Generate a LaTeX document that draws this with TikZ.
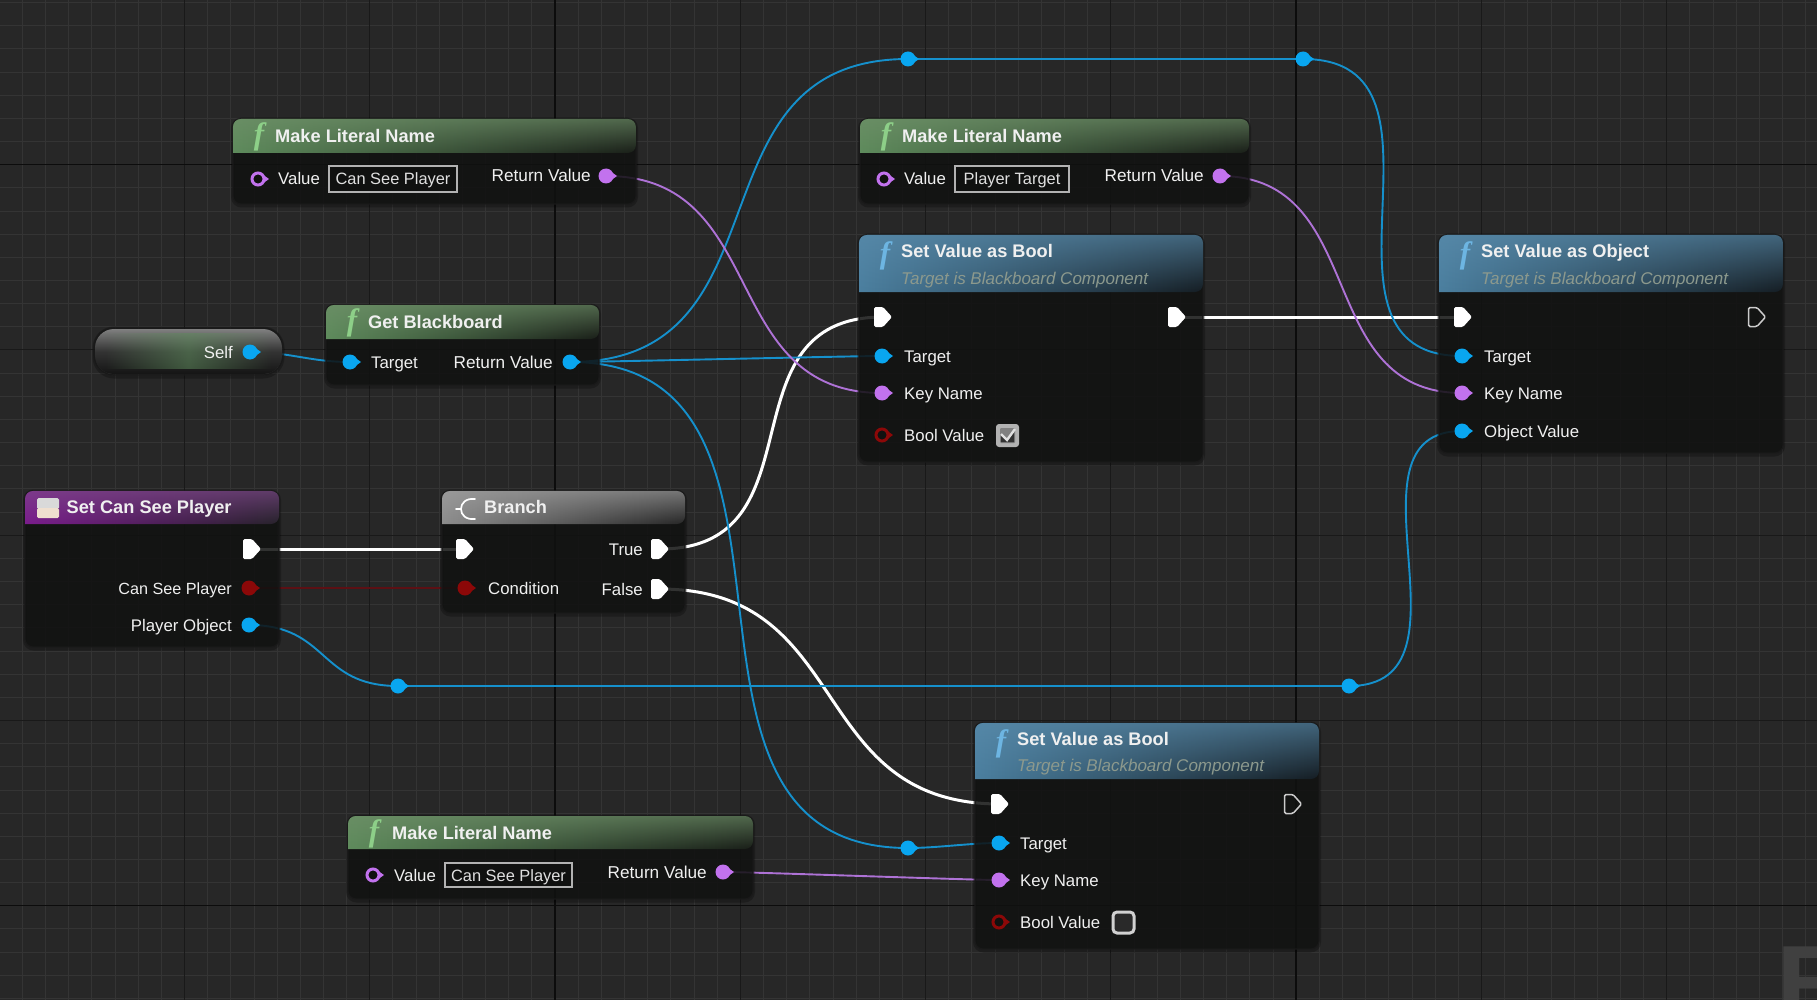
\documentclass[tikz,border=0pt]{standalone}
\usepackage{fontspec}
\setmainfont{Liberation Sans}
\newfontfamily\fserif{Liberation Serif}
\usetikzlibrary{fadings}
\pgfdeclarelayer{gridlayer}
\pgfdeclarelayer{wires}
\pgfsetlayers{gridlayer,wires,main}
\definecolor{bgc}{HTML}{272727}
\definecolor{gridminor}{HTML}{343434}
\definecolor{gridmed}{HTML}{191919}
\definecolor{gridmajor}{HTML}{0C0C0C}
\definecolor{bodyc}{HTML}{101110}
\definecolor{pinblue}{HTML}{09A6F0}
\definecolor{pinpurple}{HTML}{C272EE}
\definecolor{pinred}{HTML}{8C0808}
\definecolor{wblue}{HTML}{1590CC}
\definecolor{wpurple}{HTML}{AE72D6}
\definecolor{wred}{HTML}{5C1014}
\definecolor{greenL}{HTML}{5E8B5C}
\definecolor{greenR}{HTML}{191E18}
\definecolor{greenT}{HTML}{6F9069}
\definecolor{blueL}{HTML}{4B7F9F}
\definecolor{blueR}{HTML}{151D23}
\definecolor{blueT}{HTML}{5A8CAC}
\definecolor{purpL}{HTML}{7A1C8C}
\definecolor{purpR}{HTML}{26222A}
\definecolor{purpT}{HTML}{7E4A8A}
\definecolor{greyL}{HTML}{8C8C8C}
\definecolor{greyR}{HTML}{262626}
\definecolor{greyT}{HTML}{A0A0A0}
\definecolor{txt}{HTML}{F0F0F0}
\definecolor{subt}{HTML}{8C998D}
\definecolor{fgreen}{HTML}{8DCF88}
\definecolor{fblue}{HTML}{6DB5E2}
\tikzfading[name=headfade, top color=transparent!35, bottom color=transparent!100]
\tikzfading[name=midglow, left color=transparent!100, right color=transparent!100, middle color=transparent!45]
\tikzset{
  x=1pt,y=-1pt,
  bpbody/.style={draw=black!90,line width=1.2pt,fill=bodyc,fill opacity=.86,rounded corners=8pt,inner sep=0pt,outer sep=0pt},
  pinnode/.style={circle,inner sep=0pt,minimum size=15pt,outer sep=0pt},
  execnode/.style={inner sep=0pt,minimum size=18pt,outer sep=0pt},
  wireb/.style={wblue,line width=1.9pt},
  wirep/.style={wpurple,line width=1.9pt},
  wirer/.style={wred,line width=1.9pt},
  wirew/.style={white,line width=3pt},
  ttl/.style={font=\fontsize{18.2}{20}\selectfont\bfseries,text=txt,inner sep=0pt,anchor=base west},
  subst/.style={font=\fontsize{17}{19}\selectfont\itshape,text=subt,inner sep=0pt,anchor=base west},
  lblw/.style={font=\fontsize{16.8}{19}\selectfont,text=txt,inner sep=0pt,anchor=base west},
  lble/.style={font=\fontsize{16.8}{19}\selectfont,text=txt,inner sep=0pt,anchor=base east},
  lit/.style={draw=white!70!black,line width=1.3pt,fill=bodyc,inner sep=0pt,outer sep=0pt,text height=12pt,text depth=0pt},
  fsym/.style={font=\fontsize{31}{32}\fserif\bfseries\itshape\selectfont,inner sep=0pt},
}
\newcount\lblc
\newcommand\tname{\global\advance\lblc by 1 }
% body: name x1 y1 x2 y2
\newcommand\bpbox[5]{%
  \pgfmathsetmacro\bw{#4-#2}\pgfmathsetmacro\bh{#5-#3}%
  \pgfmathsetmacro\bcx{(#4+#2)/2}\pgfmathsetmacro\bcy{(#5+#3)/2}%
  \draw[black,opacity=.25,line width=3pt,rounded corners=9pt] (#2-.5,#3) rectangle (#4+.5,#5+2);
  \node[bpbody,minimum width=\bw pt,minimum height=\bh pt] (#1) at (\bcx,\bcy) {};
}
% header: x1 y1 x2 ybottom colourL colourR colourT
\newcommand\bphead[7]{%
  \shade[left color=#5,right color=#6] (#1,#4) [rounded corners=8pt] -- (#1,#2) -- (#3,#2) -- (#3,#4) [sharp corners] -- cycle;
  \fill[#7,path fading=headfade] (#1,#4) [rounded corners=8pt] -- (#1,#2) -- (#3,#2) -- (#3,#4) [sharp corners] -- cycle;
}
\newcommand\txl[3]{\tname\node[lblw] (t\the\lblc) at (#1,#2+6) {#3};}
\newcommand\txr[3]{\tname\node[lble] (t\the\lblc) at (#1,#2+6) {#3};}
\newcommand\retv[2]{\tname\node[lble,font=\fontsize{17.2}{19}\selectfont] (t\the\lblc) at (#1,#2+6) {Return Value};}
\newcommand\bptitle[3]{\tname\node[ttl] (t\the\lblc) at (#1,#2+7.5) {#3};}
\newcommand\bpsub[3]{\tname\node[subst] (t\the\lblc) at (#1,#2+6) {#3};}
\newcommand\fsign[3]{\tname\node[fsym,text=#3] (t\the\lblc) at (#1,#2) {f};}
\newcommand\pinS[4]{%
  \fill[#4] (#2+4,#3-5) -- (#2+11,#3) -- (#2+4,#3+5) -- cycle;
  \node[pinnode,fill=#4] (#1) at (#2,#3) {};
}
\newcommand\pinR[4]{%
  \fill[#4] (#2+4,#3-5) -- (#2+11,#3) -- (#2+4,#3+5) -- cycle;
  \node[pinnode,minimum size=12pt,draw=#4,line width=3pt,fill=bodyc] (#1) at (#2,#3) {};
}
\newcommand\pinE[3]{%
  \node[execnode] (#1) at (#2,#3) {};
  \fill[white,rounded corners=1.5pt] (#2-9,#3-10) -- (#2,#3-10) -- (#2+9,#3) -- (#2,#3+10) -- (#2-9,#3+10) -- cycle;
}
\newcommand\pinH[3]{%
  \node[execnode] (#1) at (#2,#3) {};
  \draw[white!80!black,line width=1.5pt,rounded corners=1.5pt] (#2-8.5,#3-9.5) -- (#2,#3-9.5) -- (#2+8.5,#3) -- (#2,#3+9.5) -- (#2-8.5,#3+9.5) -- cycle;
}
\newcommand\litbox[6]{% name x1 y1 x2 y2 text
  \pgfmathsetmacro\bw{#4-#2}\pgfmathsetmacro\bh{#5-#3}%
  \pgfmathsetmacro\bcx{(#4+#2)/2}\pgfmathsetmacro\bcy{(#5+#3)/2}%
  \node[lit,minimum width=\bw pt,minimum height=\bh pt,font=\fontsize{16.4}{18}\selectfont,text=white!88!black] (#1) at (\bcx,\bcy) {#6};
}
\newcommand\wire[4]{\draw[#1] (#2.center) .. controls +(#4,0) and +(-#4,0) .. (#3.center);}
\begin{document}
\begin{tikzpicture}
\useasboundingbox (0,0) rectangle (1817,1000);
\clip (0,0) rectangle (1817,1000);
\begin{pgfonlayer}{gridlayer}
\fill[bgc] (0,0) rectangle (1817,1000);
\foreach \i in {-24,...,55}{
  \pgfmathsetmacro\gx{555+\i*23.16}
  \draw[gridminor,line width=.8pt] (\gx,0) -- (\gx,1000);
}
\foreach \i in {-7,...,37}{
  \pgfmathsetmacro\gy{164.6+\i*23.16}
  \draw[gridminor,line width=.8pt] (0,\gy) -- (1817,\gy);
}
\foreach \i in {-3,...,7}{
  \pgfmathsetmacro\gx{555+\i*185.28}
  \draw[gridmed,line width=.8pt] (\gx,0) -- (\gx,1000);
}
\foreach \i in {-1,...,5}{
  \pgfmathsetmacro\gy{164.6+\i*185.28}
  \draw[gridmed,line width=.8pt] (0,\gy) -- (1817,\gy);
}
\draw[gridmajor,line width=1.1pt] (555,0) -- (555,1000);
\draw[gridmajor,line width=1.1pt] (1296,0) -- (1296,1000);
\draw[gridmajor,line width=1.1pt] (0,164.6) -- (1817,164.6);
\draw[gridmajor,line width=1.1pt] (0,905.4) -- (1817,905.4);
\tname\node[font=\fontsize{110}{110}\selectfont\bfseries,text=white!25!black,inner sep=0pt,anchor=base west] (t\the\lblc) at (1776,1022) {B};
\end{pgfonlayer}

% ---- Make Literal Name 1
\bpbox{mln1}{233}{119}{636}{204}
\bphead{233}{119}{636}{153}{greenL}{greenR}{greenT}
\fsign{259}{137}{fgreen}
\bptitle{275}{135}{Make Literal Name}
\pinR{mln1v}{258}{179}{pinpurple}
\txl{278}{179}{Value}
\litbox{mln1b}{329}{166}{457}{192}{Can See Player}
\retv{591}{176}
\pinS{mln1r}{606}{176}{pinpurple}

% ---- Make Literal Name 2
\bpbox{mln2}{860}{119}{1249}{204}
\bphead{860}{119}{1249}{153}{greenL}{greenR}{greenT}
\fsign{886}{137}{fgreen}
\bptitle{902}{135}{Make Literal Name}
\pinR{mln2v}{884}{179}{pinpurple}
\txl{904}{179}{Value}
\litbox{mln2b}{955}{166}{1069}{192}{Player Target}
\retv{1204}{176}
\pinS{mln2r}{1220}{176}{pinpurple}

% ---- Self
\draw[black,opacity=.25,line width=3pt,rounded corners=20pt] (94,328) rectangle (283,377);
\node[draw=black!90,line width=1.2pt,rounded corners=20pt,minimum width=189pt,minimum height=47pt,inner sep=0pt,outer sep=0pt] (self) at (188.5,351.5) {};
\shade[top color=white!50!black,bottom color=white!8!black,middle color=white!20!black,rounded corners=19pt] (95,329) -- (282,329) -- (282,374) -- (95,374) -- cycle;
\fill[greenL,path fading=midglow] (105,333) rectangle (272,369);
\txr{233}{352}{Self}
\pinS{selfp}{250}{352}{pinblue}

% ---- Get Blackboard
\bpbox{gb}{326}{305}{599}{385}
\bphead{326}{305}{599}{339}{greenL}{greenR}{greenT}
\fsign{352}{323}{fgreen}
\bptitle{368}{321}{Get Blackboard}
\pinS{gbt}{350}{362}{pinblue}
\txl{371}{362}{Target}
\retv{553}{362}
\pinS{gbr}{570}{362}{pinblue}

% ---- Set Can See Player
\bpbox{scsp}{25}{491}{279}{647}
\bphead{25}{491}{279}{524}{purpL}{purpR}{purpT}
\fill[white!85!black,rounded corners=1.5pt] (37,498) rectangle (59,509);
\fill[white!75!brown,rounded corners=1.5pt] (37,508) rectangle (59,518);
\bptitle{66.5}{506}{Set Can See Player}
\pinE{scspx}{252}{549}
\tname\node[lble,font=\fontsize{16.2}{19}\selectfont] (t\the\lblc) at (232,594) {Can See Player};
\pinS{scspc}{249}{588}{pinred}
\txr{232}{625}{Player Object}
\pinS{scspo}{249}{625}{pinblue}

% ---- Branch
\bpbox{br}{442}{491}{685}{613}
\bphead{442}{491}{685}{524}{greyL}{greyR}{greyT}
\draw[white,line width=1.7pt,line cap=round] (475,499) .. controls (466,498) and (461,503) .. (461,509) .. controls (461,515) and (466,520) .. (475,519);
\draw[white,line width=1.7pt,line cap=round] (456,509) -- (461,509);
\bptitle{484}{506}{Branch}
\pinE{brx}{465}{549}
\pinS{brc}{465}{588}{pinred}
\txl{488}{588}{Condition}
\txr{643}{549}{True}
\pinE{brt}{660}{549}
\txr{643}{589}{False}
\pinE{brf}{660}{589}

% ---- Set Value as Bool 1
\bpbox{svb}{859}{235}{1203}{462}
\bphead{859}{235}{1203}{292}{blueL}{blueR}{blueT}
\fsign{885}{256}{fblue}
\bptitle{901}{250}{Set Value as Bool}
\bpsub{901}{278}{Target is Blackboard Component}
\pinE{svbi}{883}{317}
\pinE{svbo}{1177}{317}
\pinS{svbt}{882}{356}{pinblue}
\txl{904}{356}{Target}
\pinS{svbk}{882}{393}{pinpurple}
\txl{904}{393}{Key Name}
\pinR{svbv}{882}{435}{pinred}
\txl{904}{435}{Bool Value}
\node[fill=white!70!black,rounded corners=3pt,minimum width=23pt,minimum height=23pt,inner sep=0pt] (svbc) at (1007.5,435.5) {};
\fill[white!50!black,rounded corners=1pt] (1000,428) rectangle (1015,443);
\fill[white!20!black] (1001,436) -- (1007,441) -- (1014,431) -- (1014,442) -- (1001,442) -- cycle;
\draw[white!88!black,line width=2.4pt] (1001,434) -- (1007,440) -- (1015,429);

% ---- Set Value as Object
\bpbox{svo}{1439}{235}{1783}{453}
\bphead{1439}{235}{1783}{292}{blueL}{blueR}{blueT}
\fsign{1465}{256}{fblue}
\bptitle{1481}{250}{Set Value as Object}
\bpsub{1481}{278}{Target is Blackboard Component}
\pinE{svoi}{1463}{317}
\pinH{svoo}{1757}{317}
\pinS{svot}{1462}{356}{pinblue}
\txl{1484}{356}{Target}
\pinS{svok}{1462}{393}{pinpurple}
\txl{1484}{393}{Key Name}
\pinS{svov}{1462}{431}{pinblue}
\txl{1484}{431}{Object Value}

% ---- Set Value as Bool 2
\bpbox{svc}{975}{723}{1319}{949}
\bphead{975}{723}{1319}{779}{blueL}{blueR}{blueT}
\fsign{1001}{744}{fblue}
\bptitle{1017}{738}{Set Value as Bool}
\bpsub{1017}{765}{Target is Blackboard Component}
\pinE{svci}{1000}{804}
\pinH{svco}{1293}{804}
\pinS{svct}{999}{843}{pinblue}
\txl{1020}{843}{Target}
\pinS{svck}{999}{880}{pinpurple}
\txl{1020}{880}{Key Name}
\pinR{svcv}{999}{922}{pinred}
\txl{1020}{922}{Bool Value}
\node[draw=white!82!black,line width=3pt,fill=white!16!black,rounded corners=4pt,minimum width=21pt,minimum height=21pt,inner sep=0pt] (svcc) at (1123.5,922.5) {};

% ---- Make Literal Name 3
\bpbox{mln3}{348}{816}{753}{899}
\bphead{348}{816}{753}{849}{greenL}{greenR}{greenT}
\fsign{374}{834}{fgreen}
\bptitle{392}{832}{Make Literal Name}
\pinR{mln3v}{373}{875}{pinpurple}
\txl{394}{875}{Value}
\litbox{mln3b}{445}{863}{572}{887}{Can See Player}
\retv{707}{872}
\pinS{mln3r}{723}{872}{pinpurple}

% ---- reroute knots
\pinS{rr1}{398}{686}{pinblue}
\pinS{rr2}{1349}{686}{pinblue}
\pinS{rr3}{908}{59}{pinblue}
\pinS{rr4}{1303}{59}{pinblue}
\pinS{rr5}{908}{848}{pinblue}

% ---- wires
\begin{pgfonlayer}{wires}
\wire{wirew}{scspx}{brx}{20}
\wire{wirew}{svbo}{svoi}{20}
\wire{wirew}{brt}{svbi}{165}
\wire{wirew}{brf}{svci}{195}
\wire{wirer}{scspc}{brc}{20}
\wire{wireb}{selfp}{gbt}{40}
\wire{wireb}{scspo}{rr1}{80}
\wire{wireb}{rr1}{rr2}{20}
\draw[wireb] (rr2.center) .. controls +(136,0) and +(-128,0) .. (svov.center);
\wire{wireb}{gbr}{rr3}{225}
\wire{wireb}{rr3}{rr4}{20}
\wire{wireb}{rr4}{svot}{170}
\wire{wireb}{gbr}{svbt}{30}
\wire{wireb}{gbr}{rr5}{280}
\wire{wireb}{rr5}{svct}{30}
\wire{wirep}{mln1r}{svbk}{165}
\wire{wirep}{mln2r}{svok}{150}
\wire{wirep}{mln3r}{svck}{30}
\end{pgfonlayer}
\end{tikzpicture}
\end{document}
